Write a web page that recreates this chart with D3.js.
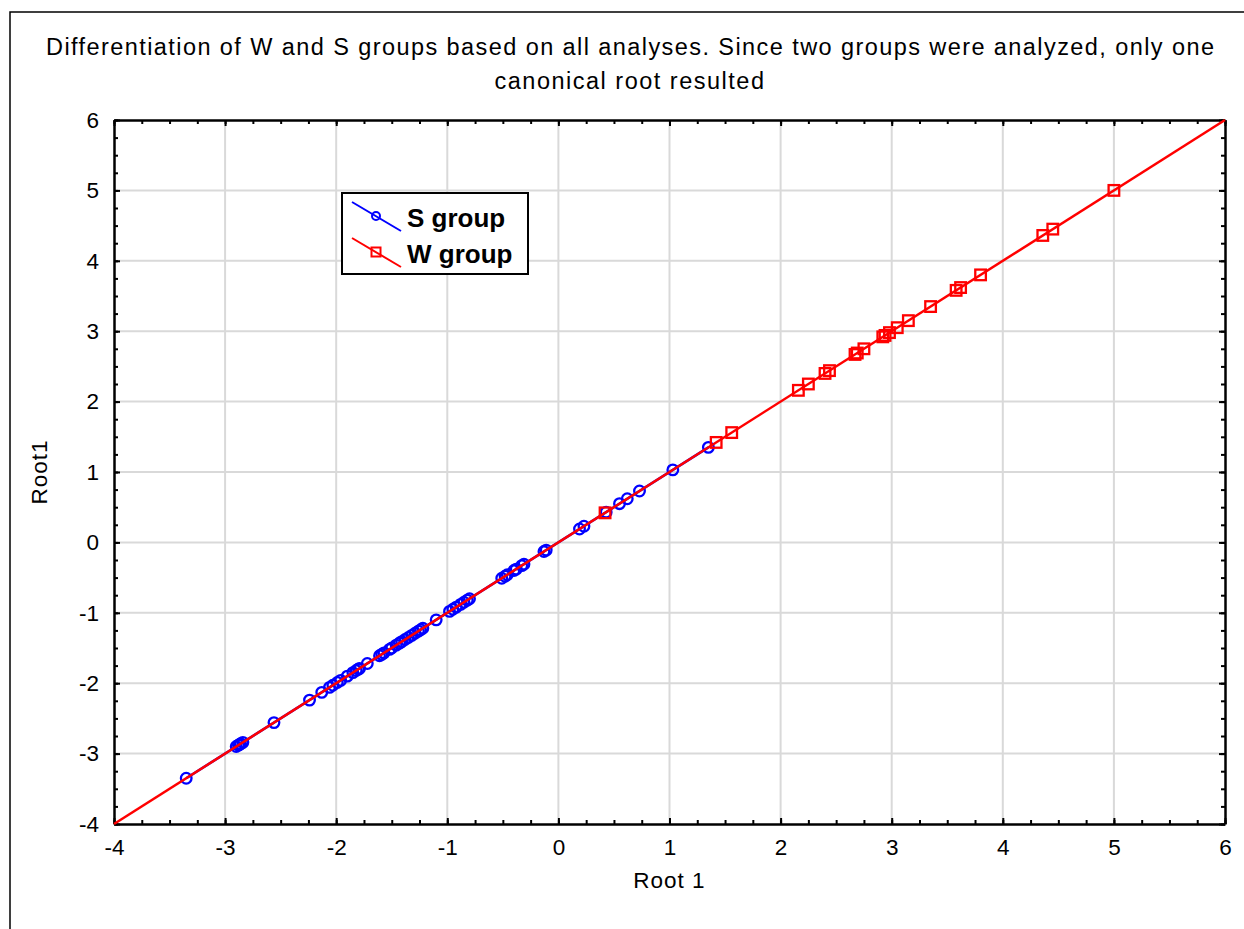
<!DOCTYPE html>
<html>
<head>
  <meta charset="utf-8">
  <title>Differentiation of W and S groups</title>
  <script src="https://d3js.org/d3.v7.min.js"></script>
  <style>
    body { margin: 0; background: #fff; }
    text { font-family: "Liberation Sans", Arial, sans-serif; fill: #000; }
  </style>
</head>
<body>
<div id="chart"></div>
<script>
  // canonical root scores (plotted against themselves)
  const sRoot = [-3.35, -2.90, -2.88, -2.87, -2.86, -2.84, -2.56, -2.24, -2.13, -2.06,
    -2.03, -1.99, -1.96, -1.90, -1.85, -1.82, -1.80, -1.79, -1.72, -1.61, -1.59, -1.57,
    -1.52, -1.50, -1.46, -1.43, -1.41, -1.38, -1.35, -1.32, -1.29, -1.26, -1.24, -1.22,
    -1.10, -0.98, -0.95, -0.92, -0.88, -0.85, -0.82, -0.80, -0.51, -0.48, -0.46, -0.40,
    -0.38, -0.33, -0.31, -0.13, -0.11, 0.19, 0.23, 0.43, 0.55, 0.62, 0.73, 1.03, 1.35];
  const wRoot = [0.42, 1.42, 1.56, 2.16, 2.25, 2.40, 2.44, 2.67, 2.69, 2.75, 2.92, 2.94,
    2.98, 3.05, 3.15, 3.35, 3.58, 3.62, 3.80, 4.36, 4.45, 5.00];
  const groups = ["S group", "W group"];
  const ticks = [-4, -3, -2, -1, 0, 1, 2, 3, 4, 5, 6];
  const titleLines = [
    "Differentiation of W and S groups based on all analyses. Since two groups were analyzed, only one",
    "canonical root resulted"
  ];

  const width = 1244, height = 929;
  const margin = { top: 120, right: 19, bottom: 105, left: 114 };
  const innerW = width - margin.left - margin.right;
  const innerH = height - margin.top - margin.bottom;

  const svg = d3.select("#chart").append("svg")
    .attr("width", width).attr("height", height);

  // outer frame (left + top only, as in the export)
  svg.append("path")
    .attr("d", `M10,${height} L10,12 L${width},12`)
    .attr("fill", "none").attr("stroke", "#000").attr("stroke-width", 1.5);

  // title
  const tl = svg.selectAll(".title").data(titleLines).enter().append("text")
    .attr("x", 630).attr("y", (d, i) => 55 + i * 34)
    .attr("text-anchor", "middle")
    .attr("font-size", 23.5)
    .text(d => d);
  tl.filter((d, i) => i === 0).attr("textLength", 1168).attr("lengthAdjust", "spacing");
  tl.filter((d, i) => i === 1).attr("letter-spacing", 1.5);

  const g = svg.append("g").attr("transform", `translate(${margin.left},${margin.top})`);

  const x = d3.scaleLinear().domain([-4, 6]).range([0, innerW]);
  const y = d3.scaleLinear().domain([-4, 6]).range([innerH, 0]);

  // grid
  g.append("g").selectAll("line").data(ticks.slice(1, -1)).enter().append("line")
    .attr("x1", d => x(d)).attr("x2", d => x(d)).attr("y1", 0).attr("y2", innerH)
    .attr("stroke", "#d9d9d9").attr("stroke-width", 2);
  g.append("g").selectAll("line").data(ticks.slice(1, -1)).enter().append("line")
    .attr("y1", d => y(d)).attr("y2", d => y(d)).attr("x1", 0).attr("x2", innerW)
    .attr("stroke", "#d9d9d9").attr("stroke-width", 2);

  // axes with inward ticks on all four sides
  const minor = d3.range(-4, 6.001, 0.25);
  function addAxis(axisFn, scale, transform, labels) {
    const major = g.append("g").attr("transform", transform)
      .call(axisFn(scale).tickValues(ticks).tickSizeInner(-6).tickSizeOuter(0)
        .tickPadding(labels ? 15 : 0).tickFormat(labels ? (d => String(d)) : ""));
    major.select(".domain").attr("stroke-width", 2.5);
    major.selectAll(".tick line").attr("stroke-width", 2);
    major.selectAll("text").attr("font-size", 22.5).attr("font-family", "Liberation Sans, Arial, sans-serif");
    const mn = g.append("g").attr("transform", transform)
      .call(axisFn(scale).tickValues(minor).tickSizeInner(-4).tickSizeOuter(0).tickFormat(""));
    mn.select(".domain").remove();
    mn.selectAll(".tick line").attr("stroke-width", 2);
    return major;
  }
  addAxis(d3.axisBottom, x, `translate(0,${innerH})`, true)
    .selectAll("text").attr("dy", "0.71em");
  addAxis(d3.axisTop, x, "translate(0,0)", false);
  addAxis(d3.axisLeft, y, "translate(0,0)", true);
  addAxis(d3.axisRight, y, `translate(${innerW},0)`, false);

  // fitted lines (blue under red)
  const line = d3.line().x(d => x(d)).y(d => y(d));
  g.append("path").datum(d3.extent(sRoot)).attr("d", line)
    .attr("stroke", "#0000ff").attr("stroke-width", 2.5).attr("fill", "none");

  // S group points
  g.append("g").selectAll("circle").data(sRoot).enter().append("circle")
    .attr("cx", d => x(d)).attr("cy", d => y(d)).attr("r", 5.3)
    .attr("fill", "none").attr("stroke", "#0000ff").attr("stroke-width", 2.3);

  g.append("path").datum(x.domain()).attr("d", line)
    .attr("stroke", "#ff0000").attr("stroke-width", 2.5).attr("fill", "none");

  // W group points
  g.append("g").selectAll("rect").data(wRoot).enter().append("rect")
    .attr("x", d => x(d) - 5.3).attr("y", d => y(d) - 5.3)
    .attr("width", 10.6).attr("height", 10.6)
    .attr("fill", "none").attr("stroke", "#ff0000").attr("stroke-width", 2.3);

  // axis titles
  svg.append("text").attr("x", x(1) + margin.left).attr("y", 888)
    .attr("text-anchor", "middle").attr("font-size", 22.5).attr("letter-spacing", 1).text("Root 1");
  svg.append("text")
    .attr("transform", `translate(47,${y(1) + margin.top}) rotate(-90)`)
    .attr("text-anchor", "middle").attr("font-size", 22.5).attr("letter-spacing", 1).text("Root1");

  // legend
  const lg = svg.append("g").attr("transform", "translate(342,193)");
  lg.append("rect").attr("width", 186).attr("height", 81)
    .attr("fill", "#fff").attr("stroke", "#000").attr("stroke-width", 2);
  const colors = ["#0000ff", "#ff0000"];
  groups.forEach((name, i) => {
    const yo = 9 + i * 36;
    lg.append("line").attr("x1", 10).attr("y1", yo).attr("x2", 59).attr("y2", yo + 29)
      .attr("stroke", colors[i]).attr("stroke-width", 2);
    if (i === 0) {
      lg.append("circle").attr("cx", 34).attr("cy", yo + 14).attr("r", 4)
        .attr("fill", "none").attr("stroke", colors[i]).attr("stroke-width", 2);
    } else {
      lg.append("rect").attr("x", 29.5).attr("y", yo + 9.5).attr("width", 9).attr("height", 9)
        .attr("fill", "none").attr("stroke", colors[i]).attr("stroke-width", 2);
    }
    lg.append("text").attr("x", 65).attr("y", yo + 25)
      .attr("font-size", 26).attr("font-weight", "bold").text(name);
  });
</script>
</body>
</html>
